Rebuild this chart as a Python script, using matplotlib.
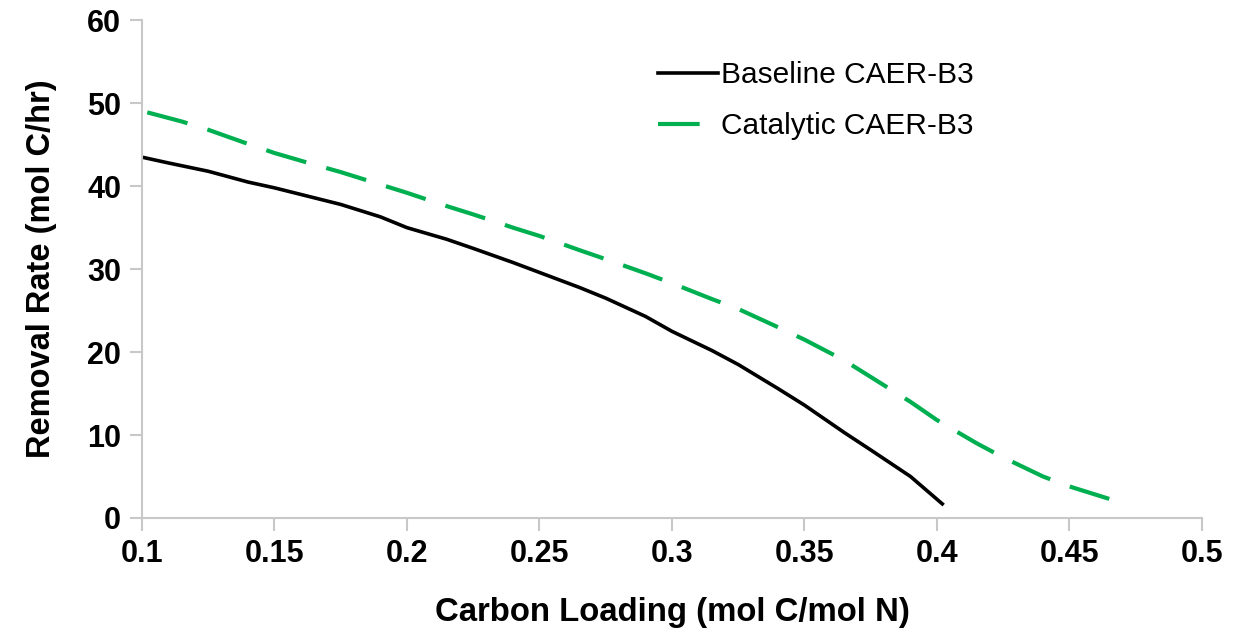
import numpy as np
import matplotlib
matplotlib.use('Agg')
import matplotlib.pyplot as plt

plt.rcParams['font.family'] = ['Liberation Sans', 'DejaVu Sans']

# Baseline CAER-B3
base_x = [0.100, 0.110, 0.125, 0.140, 0.150, 0.165, 0.175, 0.190, 0.200, 0.215,
          0.225, 0.240, 0.250, 0.265, 0.275, 0.290, 0.300, 0.315, 0.325, 0.340,
          0.350, 0.365, 0.375, 0.390, 0.402]
base_y = [43.5, 42.8, 41.8, 40.5, 39.8, 38.6, 37.8, 36.3, 35.0, 33.6,
          32.5, 30.8, 29.6, 27.8, 26.5, 24.3, 22.5, 20.2, 18.5, 15.6,
          13.6, 10.3, 8.2, 5.0, 1.7]

# Catalytic CAER-B3
cat_x = [0.102, 0.115, 0.125, 0.140, 0.150, 0.165, 0.175, 0.190, 0.200, 0.215,
         0.225, 0.240, 0.250, 0.265, 0.275, 0.290, 0.300, 0.315, 0.325, 0.340,
         0.350, 0.365, 0.375, 0.390, 0.400, 0.415, 0.425, 0.440, 0.450, 0.465]
cat_y = [48.9, 47.8, 46.8, 45.1, 44.0, 42.6, 41.7, 40.2, 39.2, 37.6,
         36.6, 35.0, 34.0, 32.3, 31.2, 29.5, 28.3, 26.4, 25.2, 23.0,
         21.5, 19.0, 17.0, 14.0, 11.8, 9.0, 7.3, 5.0, 3.8, 2.3]

fig = plt.figure(figsize=(12.53, 6.34), dpi=100)
ax = fig.add_axes([0.1133, 0.183, 0.846, 0.785])

ax.plot(base_x, base_y, color='black', lw=2.6, label='Baseline CAER-B3')
ax.plot(cat_x, cat_y, color='#00b050', lw=3.0, dashes=(10, 5),
        label='Catalytic CAER-B3')

ax.set_xlim(0.1, 0.5)
ax.set_ylim(0, 60)
ax.set_xticks(np.arange(0.1, 0.501, 0.05))
ax.set_xticklabels(['0.1', '0.15', '0.2', '0.25', '0.3', '0.35', '0.4', '0.45', '0.5'])
ax.set_yticks(range(0, 61, 10))

for s in ['top', 'right']:
    ax.spines[s].set_visible(False)
for s in ['left', 'bottom']:
    ax.spines[s].set_color('#c8c8c8')
    ax.spines[s].set_linewidth(1.5)
ax.tick_params(axis='both', colors='#c8c8c8', width=1.5, length=9,
               labelcolor='black', labelsize=22, pad=6)
for lbl in ax.get_xticklabels() + ax.get_yticklabels():
    lbl.set_fontweight('bold')

ax.set_xlabel('Carbon Loading (mol C/mol N)', fontsize=23.7, fontweight='bold',
              labelpad=20)
ax.set_ylabel('Removal Rate (mol C/hr)', fontsize=23.5, fontweight='bold',
              labelpad=22)

ax.legend(loc='upper left', bbox_to_anchor=(658 / 1253, 1 - 61 / 634),
          bbox_transform=fig.transFigure, frameon=False, borderpad=0,
          borderaxespad=0, fontsize=21.5, handlelength=2.0,
          handletextpad=0.12, labelspacing=0.77)

fig.savefig('out.png', dpi=100)
